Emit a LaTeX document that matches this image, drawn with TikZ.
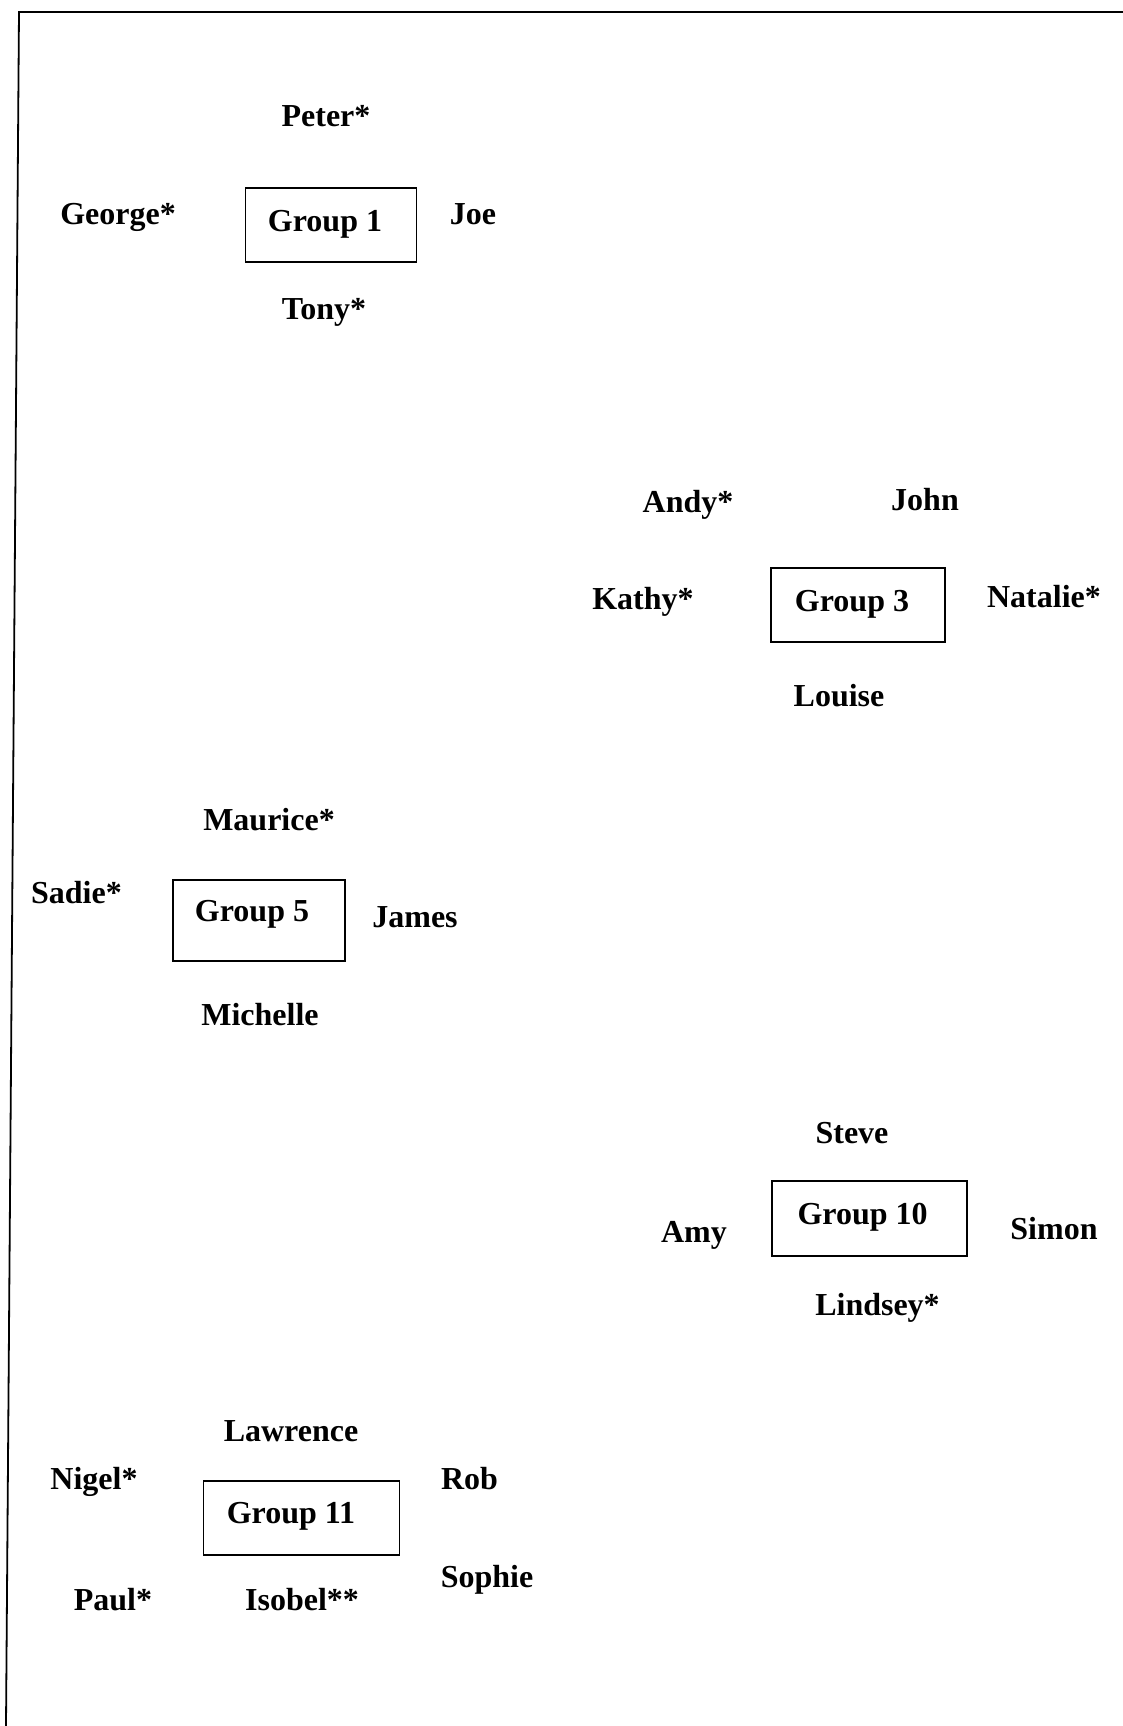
\documentclass[tikz,border=0pt]{standalone}
\usepackage{fontspec}
\setmainfont{Liberation Serif}
\begin{document}
\begin{tikzpicture}[x=1pt,y=-1pt,
  lbl/.style={anchor=base,inner sep=0pt,font=\bfseries\fontsize{32}{38}\selectfont},
  grp/.style={draw,line width=1.4pt,inner sep=0pt}]
\useasboundingbox (0,0) rectangle (1123,1726);
\coordinate (tl) at (19,12);
\coordinate (tr) at (1123,12);
\coordinate (bl) at (6,1726);
\draw[line width=1.8pt] (tr) -- (tl) -- (bl);
% Group 1
\node[grp,minimum width=171.5pt,minimum height=74pt] (g1) at (331,225) {};
\node[lbl] (g1t) at (325,231) {Group 1};
\node[lbl] (peter) at (326,127) {Peter*};
\node[lbl] (george) at (118,224) {George*};
\node[lbl] (joe) at (473,224) {Joe};
\node[lbl] (tony) at (324,319) {Tony*};
% Group 3
\node[grp,minimum width=174pt,minimum height=74pt] (g3) at (858,605) {};
\node[lbl] (g3t) at (852,611) {Group 3};
\node[lbl] (andy) at (688,512) {Andy*};
\node[lbl] (john) at (925,510) {John};
\node[lbl] (kathy) at (643,609) {Kathy*};
\node[lbl] (natalie) at (1044,607) {Natalie*};
\node[lbl] (louise) at (839,706) {Louise};
% Group 5
\node[grp,minimum width=172pt,minimum height=81pt] (g5) at (259,920.5) {};
\node[lbl] (g5t) at (252,921.5) {Group 5};
\node[lbl] (maurice) at (269,830) {Maurice*};
\node[lbl] (sadie) at (76.5,903) {Sadie*};
\node[lbl] (james) at (415,927) {James};
\node[lbl] (michelle) at (260,1025) {Michelle};
% Group 10
\node[grp,minimum width=195pt,minimum height=75pt] (g10) at (869.5,1218.5) {};
\node[lbl] (g10t) at (862.6,1224) {Group 10};
\node[lbl] (steve) at (852,1143) {Steve};
\node[lbl] (amy) at (694,1242) {Amy};
\node[lbl] (simon) at (1054,1239) {Simon};
\node[lbl] (lindsey) at (877.5,1315) {Lindsey*};
% Group 11
\node[grp,minimum width=196pt,minimum height=74pt] (g11) at (301.7,1518) {};
\node[lbl] (g11t) at (291,1523) {Group 11};
\node[lbl] (lawrence) at (291,1441) {Lawrence};
\node[lbl] (nigel) at (94,1489) {Nigel*};
\node[lbl] (rob) at (469.5,1489) {Rob};
\node[lbl] (sophie) at (487,1587) {Sophie};
\node[lbl] (paul) at (113,1610) {Paul*};
\node[lbl] (isobel) at (302,1610) {Isobel**};
\end{tikzpicture}
\end{document}
